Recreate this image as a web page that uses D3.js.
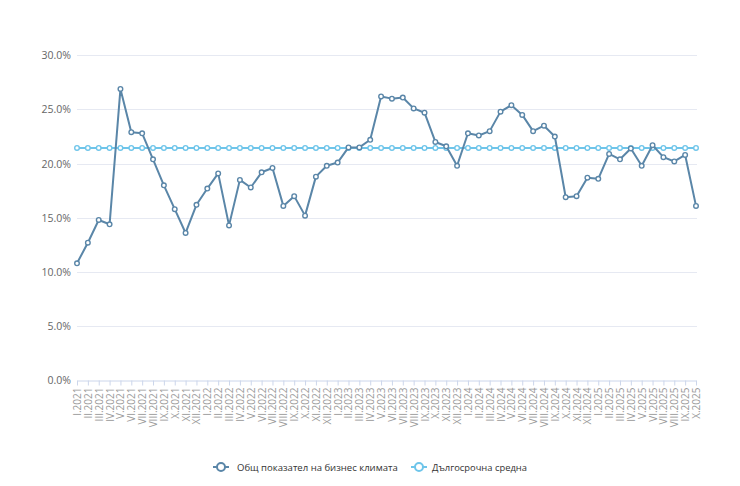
<!DOCTYPE html>
<html><head><meta charset="utf-8">
<script src="https://cdn.jsdelivr.net/npm/d3@7"></script>
<style>
body{margin:0;background:#fff;}
svg{display:block;font-family:"Open Sans","Noto Sans",sans-serif;}
</style></head>
<body>
<svg id="c" width="740" height="486"></svg>
<script>
const roman = ["I","II","III","IV","V","VI","VII","VIII","IX","X","XI","XII"];
const months = [];
for (let yr = 2021; yr <= 2025; yr++) {
  for (let m = 0; m < 12; m++) {
    if (yr === 2025 && m > 9) break;
    months.push(roman[m] + "." + yr);
  }
}
const businessClimate = [
  10.8, 12.7, 14.8, 14.4, 26.9, 22.9, 22.8, 20.4, 18.0, 15.8, 13.6, 16.2,
  17.7, 19.1, 14.3, 18.5, 17.8, 19.2, 19.6, 16.1, 17.0, 15.2, 18.8, 19.8,
  20.1, 21.5, 21.5, 22.2, 26.2, 26.0, 26.1, 25.1, 24.7, 22.0, 21.6, 19.8,
  22.8, 22.6, 23.0, 24.8, 25.4, 24.5, 23.0, 23.5, 22.5, 16.9, 17.0, 18.7,
  18.6, 20.9, 20.4, 21.4, 19.8, 21.7, 20.6, 20.2, 20.8, 16.1
];
const longTermAverage = months.map(() => 21.45);
const yTicks = [0, 5, 10, 15, 20, 25, 30];
const seriesNames = ["Общ показател на бизнес климата", "Дългосрочна средна"];
const colors = ["#5a86a8", "#6ec5ea"];

(function () {
const svg = d3.select("#c");
const mLeft = 77, mRight = 696, mTop = 55.3, mBottom = 380.3;
const x = d3.scalePoint().domain(months).range([mLeft, mRight]).padding(0);
const y = d3.scaleLinear().domain([0, 30]).range([mBottom, mTop]);

// grid
svg.append("g").selectAll("line").data(yTicks.filter(d => d > 0)).join("line")
  .attr("x1", mLeft).attr("x2", mRight + 1)
  .attr("y1", d => Math.round(y(d)) + 0.5).attr("y2", d => Math.round(y(d)) + 0.5)
  .attr("stroke", "#e6e9f2").attr("stroke-width", 1);

// y labels
svg.append("g").selectAll("text").data(yTicks).join("text")
  .attr("x", 71).attr("y", d => y(d) + 4)
  .attr("text-anchor", "end").attr("font-size", 10.5).attr("fill", "#666")
  .text(d => d.toFixed(1) + "%");

// x axis
const xAxis = d3.axisBottom(x).tickSize(5).tickSizeOuter(0).tickFormat(d => d);
const gx = svg.append("g").attr("transform", `translate(0,${Math.round(mBottom) + 0.5})`).call(xAxis);
gx.select(".domain").attr("stroke", "#ccd6eb");
gx.selectAll(".tick line").attr("stroke", "#ccd6eb");
gx.selectAll(".tick text")
  .attr("transform", "rotate(-90)")
  .attr("x", -7).attr("y", 0).attr("dy", "0.35em")
  .attr("text-anchor", "end")
  .attr("font-size", 10).attr("fill", "#999")
  .attr("font-family", "'Open Sans','Noto Sans',sans-serif");

function drawSeries(values, color) {
  const data = values.map((v, i) => [months[i], v]);
  svg.append("path").datum(data)
    .attr("fill", "none").attr("stroke", color).attr("stroke-width", 2)
    .attr("stroke-linejoin", "round")
    .attr("d", d3.line().x(d => x(d[0])).y(d => y(d[1])));
  svg.append("g").selectAll("circle").data(data).join("circle")
    .attr("cx", d => x(d[0])).attr("cy", d => y(d[1])).attr("r", 2.3)
    .attr("fill", "#fff").attr("stroke", color).attr("stroke-width", 1.4);
}
drawSeries(longTermAverage, colors[1]);
drawSeries(businessClimate, colors[0]);

// legend
const legendItems = [
  {name: seriesNames[0], color: colors[0], sx: 213, tx: 237, w: 161},
  {name: seriesNames[1], color: colors[1], sx: 411, tx: 432, w: 95}
];
const lg = svg.append("g");
legendItems.forEach(it => {
  lg.append("line").attr("x1", it.sx).attr("x2", it.sx + 16).attr("y1", 467).attr("y2", 467)
    .attr("stroke", it.color).attr("stroke-width", 2);
  lg.append("circle").attr("cx", it.sx + 8).attr("cy", 467).attr("r", 4)
    .attr("fill", "#fff").attr("stroke", it.color).attr("stroke-width", 2);
  const t = lg.append("text").attr("x", it.tx).attr("y", 471).attr("font-size", 10).attr("fill", "#333")
    .text(it.name);
  const len = t.node().getComputedTextLength();
  t.attr("font-size", 10 * it.w / len);
});
})();
</script>
</body></html>
